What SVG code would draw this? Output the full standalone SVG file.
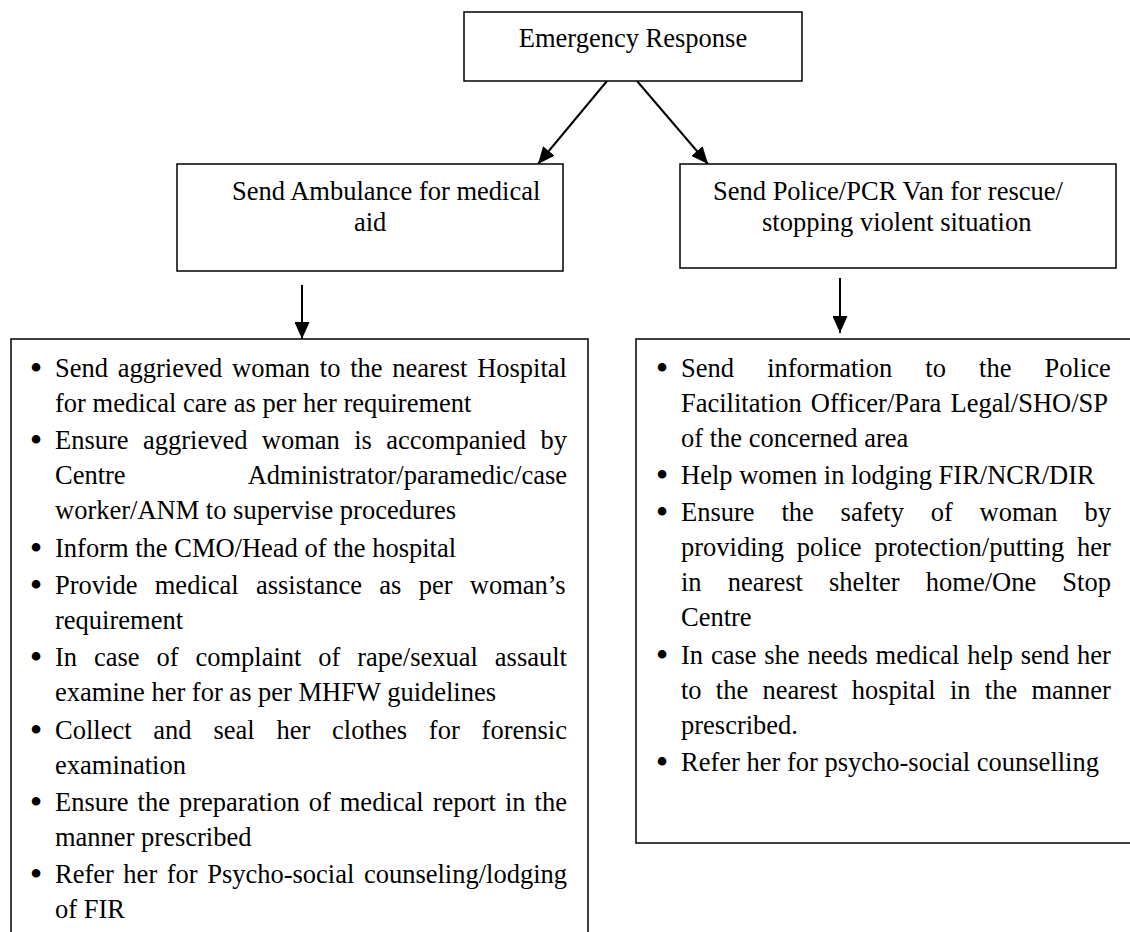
<svg xmlns="http://www.w3.org/2000/svg" width="1130" height="932" viewBox="0 0 1130 932">
<style>
  text { font-family: "Liberation Serif", "Times New Roman", serif; font-size: 26.5px; fill: #000; }
  .box { fill: #fff; stroke: #000; stroke-width: 1.5; }
  .conn { stroke: #000; stroke-width: 2; fill: none; }
  .end { text-anchor: end; }
  .bul { text-anchor: middle; font-size: 36px; }
  .mid { text-anchor: middle; }
</style>
<defs>
  <marker id="ah" markerUnits="userSpaceOnUse" markerWidth="17" markerHeight="15" refX="17" refY="7.5" orient="auto">
    <path d="M0,0 L17,7.5 L0,15 z" fill="#000"/>
  </marker>
</defs>
<rect x="0" y="0" width="1130" height="932" fill="#fff"/>

<g id="connectors">
  <line class="conn" x1="607" y1="81" x2="538" y2="164" marker-end="url(#ah)"/>
  <line class="conn" x1="637" y1="81" x2="708" y2="164" marker-end="url(#ah)"/>
  <line class="conn" x1="302" y1="285" x2="302" y2="339" marker-end="url(#ah)"/>
  <line class="conn" x1="840" y1="278" x2="840" y2="333" marker-end="url(#ah)"/>
</g>

<g id="n-emergency">
  <rect class="box" x="464" y="12" width="338" height="69"/>
  <text x="633" y="47" class="mid">Emergency Response</text>
</g>

<g id="n-ambulance">
  <rect class="box" x="177" y="164" width="386" height="107"/>
  <text x="232" y="200">Send Ambulance for medical</text>
  <text x="354" y="231">aid</text>
</g>

<g id="n-police">
  <rect class="box" x="680" y="164" width="436" height="104"/>
  <text x="713" y="200">Send Police/PCR Van for rescue/</text>
  <text x="762" y="231">stopping violent situation</text>
</g>

<g id="n-medical-steps">
  <rect class="box" x="11" y="339" width="577" height="610"/>
  <text x="36" y="380" class="bul">•</text>
  <text x="55" y="377" word-spacing="3.15">Send aggrieved woman to the nearest Hospital</text>
  <text x="55" y="412">for medical care as per her requirement</text>
  <text x="36" y="452.3" class="bul">•</text>
  <text x="55" y="449.3" word-spacing="7.76">Ensure aggrieved woman is accompanied by</text>
  <text x="55" y="484.3">Centre</text>
  <text x="567" y="484.3" class="end">Administrator/paramedic/case</text>
  <text x="55" y="519.3">worker/ANM to supervise procedures</text>
  <text x="36" y="559.6" class="bul">•</text>
  <text x="55" y="556.6">Inform the CMO/Head of the hospital</text>
  <text x="36" y="596.9" class="bul">•</text>
  <text x="55" y="593.9" word-spacing="10.7">Provide medical assistance as per woman’s</text>
  <text x="55" y="628.9">requirement</text>
  <text x="36" y="669.2" class="bul">•</text>
  <text x="55" y="666.2" word-spacing="10.27">In case of complaint of rape/sexual assault</text>
  <text x="55" y="701.2">examine her for as per MHFW guidelines</text>
  <text x="36" y="741.5" class="bul">•</text>
  <text x="55" y="738.5" word-spacing="15.17">Collect and seal her clothes for forensic</text>
  <text x="55" y="773.5">examination</text>
  <text x="36" y="813.8" class="bul">•</text>
  <text x="55" y="810.8" word-spacing="2.39">Ensure the preparation of medical report in the</text>
  <text x="55" y="845.8">manner prescribed</text>
  <text x="36" y="886.1" class="bul">•</text>
  <text x="55" y="883.1" word-spacing="2.9">Refer her for Psycho-social counseling/lodging</text>
  <text x="55" y="918.1">of FIR</text>
</g>

<g id="n-police-steps">
  <rect class="box" x="636" y="339" width="500" height="504"/>
  <text x="662" y="379.7" class="bul">•</text>
  <text x="681" y="376.7" word-spacing="26.5">Send information to the Police</text>
  <text x="681" y="411.7" word-spacing="2.55">Facilitation Officer/Para Legal/SHO/SP</text>
  <text x="681" y="446.7">of the concerned area</text>
  <text x="662" y="487" class="bul">•</text>
  <text x="681" y="484">Help women in lodging FIR/NCR/DIR</text>
  <text x="662" y="524.3" class="bul">•</text>
  <text x="681" y="521.3" word-spacing="20.2">Ensure the safety of woman by</text>
  <text x="681" y="556.3" word-spacing="6.17">providing police protection/putting her</text>
  <text x="681" y="591.3" word-spacing="19.55">in nearest shelter home/One Stop</text>
  <text x="681" y="626.3">Centre</text>
  <text x="662" y="666.6" class="bul">•</text>
  <text x="681" y="663.6" word-spacing="1.19">In case she needs medical help send her</text>
  <text x="681" y="698.6" word-spacing="7.63">to the nearest hospital in the manner</text>
  <text x="681" y="733.6">prescribed.</text>
  <text x="662" y="773.9" class="bul">•</text>
  <text x="681" y="770.9">Refer her for psycho-social counselling</text>
</g>
</svg>
